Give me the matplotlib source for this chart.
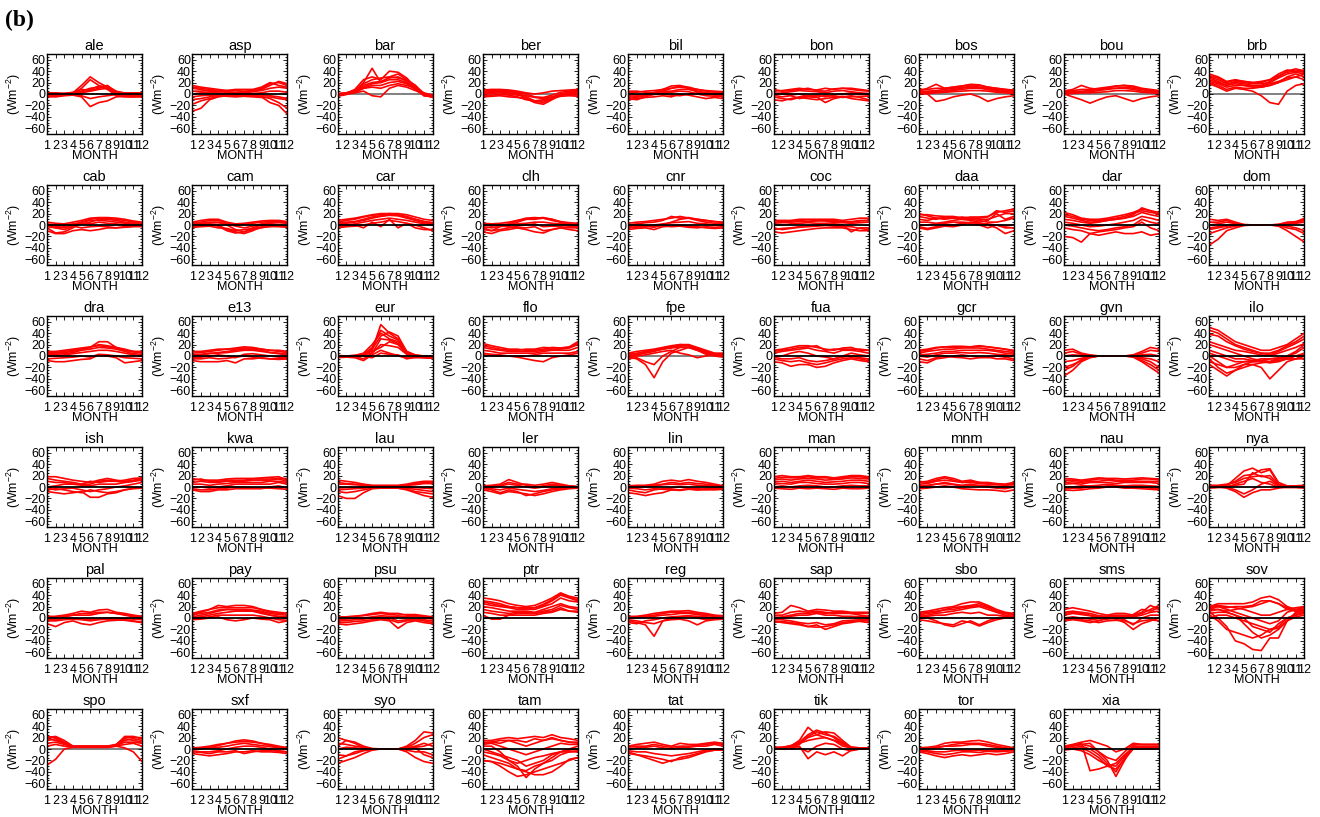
"""
monthly flux differences per station, one panel per site
"""
import matplotlib
matplotlib.use('Agg')
import numpy as np
from matplotlib import pyplot as plt
from matplotlib.ticker import MultipleLocator

MONTHS = list(range(1, 13))

ale = [[-3, -2, -1, 2, 15, 30, 20, 12, 0, -2, -3, -3], [-2, -3, -2, 0, 10, 25, 15, 8, -2, -4, -4, -3],
       [0, 1, 0, 2, 5, 10, 12, 15, 2, 0, 1, 0], [-4, -5, -3, -2, -5, -22, -15, -12, -5, -4, -5, -5],
       [1, 0, 1, 3, 8, 6, 10, 14, 5, 1, 0, 1], [-5, -4, -2, -1, 2, 5, 8, 10, -3, -5, -5, -4],
       [2, 2, 1, 2, 4, 8, 14, 12, 4, 2, 2, 2], [-1, -1, 0, 0, -3, -8, -5, -3, -1, -2, -1, -1]]
asp = [[15, 12, 10, 8, 6, 6, 5, 6, 10, 18, 20, 15], [10, 8, 5, 5, 4, 3, 4, 5, 8, 15, 22, 18],
       [-30, -25, -10, -5, -3, -2, -2, -3, -5, -15, -20, -35], [-18, -12, -8, -4, -2, -1, 0, -2, -4, -8, -15, -25],
       [5, 5, 6, 5, 3, 2, 2, 4, 6, 10, 12, 10], [0, 2, 3, 2, 1, 0, 1, 1, 2, 5, 5, 3],
       [-5, -3, -2, -3, -4, -5, -4, -5, -6, -5, -8, -10], [12, 10, 8, 6, 6, 8, 8, 8, 12, 20, 15, 12],
       [-10, -8, -5, -2, 0, 0, 1, 0, -2, -3, -5, -8]]
bar = [[-2, 0, 5, 20, 45, 20, 30, 35, 25, 15, -3, -5], [0, 1, 8, 25, 30, 25, 40, 38, 28, 12, -2, -4],
       [-3, 0, 5, 15, 20, 22, 28, 30, 22, 12, 0, -6], [0, 2, 6, 12, 18, 20, 25, 25, 20, 10, 2, -2],
       [-4, -1, 3, 10, 15, 15, 20, 22, 18, 8, -3, -5], [0, 0, 2, 5, -3, -5, 10, 15, 12, 6, 0, -3],
       [1, 2, 6, 18, 25, 28, 30, 28, 25, 15, 1, -3], [-2, 0, 4, 10, 12, 10, 15, 18, 15, 10, -1, -5]]
ber = [[5, 6, 7, 5, 2, -5, -12, -15, -8, 0, 4, 5], [2, 3, 4, 2, 0, -8, -15, -18, -10, -2, 2, 3],
       [-3, -2, -1, -2, -5, -10, -12, -10, -5, -2, -1, -2], [7, 8, 8, 7, 5, 2, 0, 2, 5, 6, 7, 8],
       [0, 1, 2, 0, -2, -3, -6, -8, -5, -1, 1, 0], [4, 4, 5, 4, 3, 0, -5, -6, -2, 3, 5, 6],
       [-5, -4, -3, -5, -6, -8, -14, -12, -8, -4, -3, -4]]
bil = [[-8, -10, -5, 0, 5, 10, 14, 12, 8, 5, 3, 2], [-5, -6, -3, 2, 8, 14, 15, 10, 5, 2, 0, -2],
       [2, 3, 5, 6, 8, 10, 12, 10, 8, 6, 5, 4], [-10, -8, -6, -5, -3, -5, 0, -2, -5, -8, -6, -8],
       [0, -2, 0, 3, 5, 5, 8, 8, 4, 2, 1, 0], [5, 5, 3, 2, 0, -2, -3, 0, 2, 0, -2, -5],
       [-3, -4, -2, -1, 2, 3, 5, 4, 0, -3, -4, -3]]
bon = [[-10, -12, -8, -5, -3, -5, -15, -8, -5, -3, -6, -10], [5, 6, 8, 10, 8, 7, 10, 8, 10, 8, 6, 5],
       [0, 2, 4, 6, 5, 4, 2, 5, 6, 4, 2, 1], [-5, -8, -10, -6, -8, -10, -8, -6, -4, -8, -10, -12],
       [2, 0, -2, 0, -4, -2, -5, -2, 0, 2, 0, -2], [-2, -5, -3, -8, -5, -6, -2, -4, -6, -5, -4, -4],
       [8, 5, 6, 8, 10, 6, 5, 9, 10, 10, 8, 6]]
bos = [[5, 10, 17, 10, 12, 14, 16, 15, 12, 10, 8, 6], [2, 0, -13, -10, -5, -2, 0, -5, -13, -8, -5, -3],
       [8, 8, 10, 10, 12, 14, 17, 16, 12, 10, 8, 7], [0, 2, 3, 5, 6, 8, 10, 10, 8, 5, 3, 2],
       [5, 5, 6, 8, 10, 12, 12, 12, 10, 8, 6, 5], [3, 3, 5, 5, 8, 10, 14, 12, 8, 6, 4, 3],
       [1, 1, 2, 3, 4, 5, 6, 6, 5, 3, 2, 1]]
bou = [[5, 8, 15, 10, 8, 10, 14, 15, 14, 10, 8, 6], [0, -5, -10, -16, -10, -5, -3, -8, -13, -8, -5, -3],
       [6, 6, 8, 8, 10, 12, 14, 15, 12, 8, 6, 5], [2, 2, 3, 4, 6, 8, 10, 10, 8, 5, 3, 2],
       [4, 4, 5, 6, 8, 10, 10, 12, 10, 8, 5, 4], [0, 1, 2, 2, 3, 4, 6, 6, 5, 3, 2, 1]]
brb = [[35, 30, 22, 25, 22, 20, 20, 25, 35, 42, 40, 38], [30, 25, 18, 20, 18, 15, 15, 22, 30, 40, 44, 40],
       [20, 15, 8, 12, 10, 10, 12, 15, 20, 25, 30, 35], [25, 20, 15, 18, 15, 12, 12, 15, 20, 30, 35, 30],
       [18, 12, 5, 10, 8, 5, -3, -15, -18, 5, 15, 18], [28, 22, 15, 22, 20, 18, 18, 20, 28, 35, 38, 35],
       [22, 18, 12, 15, 15, 14, 14, 18, 22, 28, 30, 25], [32, 28, 20, 24, 22, 20, 22, 25, 32, 38, 40, 42]]
cab = [[-5, -14, -12, -5, 5, 10, 12, 12, 10, 8, 5, 3], [0, -5, -8, -3, 2, 5, 10, 10, 8, 5, 3, 0],
       [5, 3, 2, 5, 8, 12, 13, 13, 12, 10, 7, 5], [-10, -15, -15, -10, -8, -10, -8, -5, -5, -3, -2, -3],
       [2, 0, 0, 2, 5, 8, 8, 7, 5, 3, 2, 2], [-3, -5, -3, -2, -5, -3, -2, -3, -5, -4, -3, -2],
       [0, -2, -5, 0, 3, 2, 5, 3, 2, 0, -1, 0]]
cam = [[5, 8, 10, 10, 5, 2, 3, 5, 7, 8, 8, 6], [0, 2, 5, 5, 0, -8, -12, -5, 0, 3, 4, 3],
       [-3, 0, 2, 0, -8, -12, -15, -10, -3, 0, 0, -2], [3, 5, 8, 8, 3, 0, 1, 3, 5, 6, 6, 5],
       [-5, -2, 0, -2, -10, -14, -12, -8, -5, -2, -3, -4], [2, 3, 4, 4, 2, -2, -5, -2, 2, 5, 6, 4],
       [-2, -3, -2, -5, -6, -10, -8, -6, -4, -3, -2, -2]]
car = [[5, 8, 10, 14, 17, 18, 20, 18, 15, 10, 6, 4], [2, 3, 5, 8, 12, 15, 17, 16, 12, 8, 4, 2],
       [-3, -2, 0, -5, 5, -3, 10, -5, 3, 0, -5, -10], [8, 10, 12, 15, 18, 20, 20, 20, 18, 14, 10, 8],
       [0, 0, 2, 5, 8, 10, 12, 10, 8, 5, 2, 0], [3, 5, 6, 10, 14, 16, 18, 17, 14, 10, 6, 4],
       [-5, -3, -2, 0, 3, 5, 8, 6, 3, -5, -8, -8]]
clh = [[-5, -10, -3, 0, 5, 10, 12, 13, 10, 5, 0, -3], [-12, -15, -10, -8, -5, -5, -3, -10, -8, -5, -8, -10],
       [0, -2, 0, 2, 8, 10, 10, 12, 8, 5, 2, 0], [-8, -10, -8, -5, -2, 0, 2, -3, -2, -3, -5, -5],
       [3, 2, 3, 5, 8, 12, 13, 12, 10, 6, 4, 3], [-3, -5, -2, -3, -5, -8, -12, -14, -8, -5, -3, -4],
       [0, 0, 1, 0, 2, 3, 5, 5, 3, 2, 0, 0]]
cnr = [[0, 2, 4, 5, 8, 15, 12, 13, 10, 8, 6, 5], [-5, -3, -2, -4, 0, 5, 10, 12, 8, 5, 3, 2],
       [3, 5, 6, 8, 10, 12, 15, 12, 10, 8, 6, 4], [-8, -6, -5, -8, -3, -2, 0, -2, -3, -5, -6, -5],
       [0, 0, -2, 0, 2, 4, 5, 6, 3, 2, 0, 0], [-3, -4, -3, -2, -1, -3, -2, -4, -5, -3, -4, -3]]
coc = [[8, 8, 8, 10, 10, 10, 10, 10, 8, 10, 12, 12], [-12, -14, -12, -10, -8, -6, -5, -5, -5, -8, -10, -10],
       [-5, -8, -6, -4, -2, 0, 0, 2, 0, -12, -5, -5], [3, 4, 5, 6, 6, 7, 8, 8, 6, 5, 8, 8],
       [-8, -6, -5, -3, -3, -2, -1, -2, -3, -3, -6, -8], [0, 0, 2, 3, 4, 3, 3, 4, 4, 3, 4, 5],
       [5, 6, 6, 8, 9, 8, 7, 6, 5, 6, 7, 8]]
daa = [[18, 18, 16, 15, 15, 12, 14, 14, 15, 22, 25, 28], [15, 12, 10, 14, 12, 14, 12, 10, 10, 15, 20, 20],
       [-5, -8, -5, -2, -3, 0, 5, 3, 0, -5, -15, -10], [10, 8, 12, 10, 12, 10, 8, 5, 8, 20, 10, 15],
       [5, 5, 3, 5, 8, 10, 10, 8, 5, 5, 8, 12], [-3, -6, -3, 0, 0, 3, 2, 0, -5, 0, -5, -5],
       [20, 16, 12, 12, 14, 12, 12, 12, 14, 25, 22, 25], [0, 0, 2, 3, 5, 5, 4, 3, 2, 0, -2, 0]]
dar = [[22, 18, 12, 10, 10, 12, 15, 18, 22, 28, 25, 22], [18, 15, 10, 8, 8, 10, 12, 15, 20, 25, 22, 20],
       [-20, -22, -30, -15, -18, -15, -12, -15, -15, -12, -18, -15], [-5, -8, -10, -15, -12, -10, -8, -5, -3, 5, -5, -10],
       [10, 8, 5, 3, 5, 8, 10, 12, 15, 22, 18, 15], [0, -2, -5, -8, -10, -8, -5, -3, 0, 10, 5, 2],
       [15, 12, 8, 5, 6, 8, 10, 12, 18, 30, 25, 18], [5, 3, 0, -3, -2, 0, 2, 5, 8, 15, 12, 8]]
dom = [[10, 8, 10, 5, 1, 0, 0, 0, 1, 5, 5, 12], [-5, -3, 0, 2, 0, 0, 0, 0, 0, 2, 3, 5],
       [-35, -25, -10, -5, -1, 0, 0, 0, -2, -10, -20, -30], [-15, -10, -5, -2, 0, 0, 0, 0, -1, -5, -8, -15],
       [5, 5, 8, 2, 0, 0, 0, 0, 0, 3, 4, 8], [-8, -5, -2, -1, 0, 0, 0, 0, 0, -2, -5, -10],
       [0, 2, 5, 3, 0, 0, 0, 0, 1, 4, 6, 10]]
dra = [[5, 5, 6, 8, 12, 15, 25, 25, 15, 12, 8, 6], [-8, -10, -10, -8, -6, -5, 2, 0, -3, -12, -10, -8],
       [8, 8, 10, 12, 14, 16, 18, 16, 14, 10, 8, 8], [2, 3, 4, 6, 10, 12, 15, 14, 12, 8, 4, 3],
       [-5, -4, -3, -2, 0, -2, 3, 2, 0, -3, -4, -5], [6, 6, 8, 10, 12, 15, 20, 18, 15, 10, 7, 6],
       [0, 0, 2, 4, 6, 8, 10, 10, 8, 5, 2, 0]]
e13 = [[5, 6, 8, 10, 12, 14, 16, 15, 12, 10, 8, 6], [-8, -10, -10, -10, -8, -12, -5, -5, -3, -5, -5, -4],
       [0, 2, 4, 6, 8, 10, 12, 12, 10, 6, 4, 2], [-5, -5, -3, -5, -4, -2, 0, -2, -4, -5, -6, -5],
       [2, 3, 5, 5, 6, 8, 10, 10, 8, 6, 5, 3], [8, 8, 10, 12, 12, 12, 14, 14, 12, 10, 10, 8],
       [-3, -2, 0, 2, 0, -3, 3, 4, 2, 0, -2, -3]]
eur = [[0, 0, 0, 3, 10, 55, 40, 30, 5, 0, -2, -3], [-2, -1, 0, 2, 15, 45, 35, 28, 8, 0, -2, -2],
       [0, 0, 1, 5, 20, 40, 30, 25, 5, 1, -1, -3], [-3, -2, -1, -5, 5, 20, 18, 15, 3, -1, -3, -4],
       [0, 0, 0, 0, -3, 5, 3, 2, -5, -2, -2, -3], [1, 0, 1, 3, 12, 35, 42, 35, 8, 2, 0, -1],
       [-1, 0, 0, 4, 8, 15, 25, 20, 4, 0, -2, -2], [0, 0, 0, 2, 5, 30, 28, 22, 6, 1, 0, -1],
       [-2, -2, -3, -8, 2, 10, 5, 0, -3, -3, -3, -4]]
flo = [[22, 18, 15, 12, 12, 10, 10, 12, 15, 14, 16, 25], [15, 12, 10, 8, 8, 8, 8, 10, 12, 12, 14, 20],
       [5, 3, 2, 0, -2, -5, -8, -10, -3, 0, 2, 5], [10, 8, 5, 5, 5, 5, 5, 8, 10, 10, 10, 15],
       [18, 15, 12, 10, 10, 12, 12, 15, 14, 14, 15, 22], [2, 1, 0, 0, 0, 0, 2, 5, 5, 5, 5, 8]]
fpe = [[5, 8, 10, 12, 15, 18, 20, 20, 15, 10, 5, 5], [0, 2, 5, 8, 12, 15, 18, 18, 12, 8, 4, 3],
       [-2, -5, -15, -38, -10, 5, 10, 15, 12, 5, 2, 0], [-5, -3, -10, -15, 0, 8, 15, 15, 10, 3, 0, -2],
       [3, 5, 7, 10, 12, 14, 16, 15, 10, 6, 3, 2], [-3, 0, 2, 5, 8, 10, 5, 2, -3, 0, 2, 0],
       [2, 4, 8, 10, 14, 16, 20, 18, 14, 8, 4, 3]]
fua = [[10, 12, 15, 18, 18, 15, 12, 10, 14, 15, 10, 10], [-10, -12, -18, -15, -15, -20, -18, -12, -8, -5, -8, -10],
       [5, 8, 10, 12, 14, 10, 8, 5, 10, 10, 8, 5], [-5, -8, -10, -8, -12, -15, -12, -8, -5, -3, -5, -8],
       [0, 0, 5, 8, 5, 0, -2, -5, 0, 5, 2, 0], [8, 10, 12, 15, 16, 18, 10, 12, 12, 12, 12, 10],
       [-2, -5, -5, -3, -8, -10, -8, -5, -2, 0, -3, -5]]
gcr = [[8, 10, 14, 16, 15, 16, 16, 18, 16, 14, 12, 8], [-10, -12, -5, -3, 0, 2, 0, -2, -3, 0, -2, -5],
       [5, 8, 10, 12, 12, 14, 14, 14, 12, 10, 8, 6], [-5, -8, -3, 0, -2, -3, -5, -3, -2, -5, -5, -8],
       [2, 3, 5, 8, 8, 10, 10, 10, 10, 8, 5, 3], [0, -2, 2, 5, 5, 6, 5, 6, 5, 3, 2, 0],
       [10, 12, 15, 16, 17, 17, 16, 17, 16, 14, 12, 10]]
gvn = [[10, 12, 5, 2, 0, 0, 0, 0, 2, 8, 15, 12], [-35, -25, -10, -3, 0, 0, 0, 0, -2, -10, -20, -30],
       [-20, -15, -8, -2, 0, 0, 0, 0, -1, -5, -10, -20], [5, 8, 3, 1, 0, 0, 0, 0, 1, 5, 10, 8],
       [-10, -8, -4, -1, 0, 0, 0, 0, 0, -3, -5, -10], [0, 2, 1, 0, 0, 0, 0, 0, 0, 2, 3, 0],
       [-25, -18, -6, -2, 0, 0, 0, 0, -1, -8, -15, -25]]
ilo = [[50, 45, 35, 25, 20, 15, 10, 10, 15, 20, 30, 40], [45, 40, 30, 20, 15, 10, 5, 5, 10, 18, 25, 35],
       [38, 35, 25, 18, 12, 8, 5, 2, 8, 15, 22, 30], [25, 20, 15, 10, 8, 5, 2, 0, 5, 10, 15, 22],
       [10, 5, 0, -5, -5, -8, -8, -10, -5, 0, 5, 15], [-5, -20, -30, -25, -15, -10, -8, -5, -5, -5, -5, 0],
       [-15, -25, -35, -25, -20, -15, -12, -10, -8, -5, -5, -5], [0, -10, -20, -20, -15, -15, -20, -40, -25, -10, -5, 0],
       [20, 15, 10, 5, 0, -5, -8, -10, -5, 0, 8, 20], [5, 0, -5, -10, -10, -10, -10, -12, -10, -5, 0, 5],
       [-10, -15, -20, -15, -10, -8, -5, -5, -3, -2, 0, 2]]
ish = [[18, 18, 15, 12, 10, 8, 12, 15, 12, 10, 12, 15], [15, 12, 10, 8, 5, 10, 8, 10, 10, 12, 15, 16],
       [-8, -10, -12, -10, -8, -18, -18, -12, -10, -5, -2, 0], [-5, -3, -5, -8, -10, -5, -8, -10, -8, -5, -3, -2],
       [0, 2, 5, 5, 3, 2, 5, 5, 5, 8, 10, 12], [10, 8, 8, 5, 5, 5, 10, 12, 10, 8, 10, 14],
       [-2, -5, -3, -2, -5, -8, -5, -3, 0, 2, 5, 8]]
kwa = [[15, 12, 12, 12, 14, 15, 15, 15, 16, 17, 18, 12], [-5, -8, -8, -5, -5, -3, -3, -3, -3, 0, 2, -2],
       [8, 10, 8, 8, 10, 10, 10, 12, 12, 12, 14, 10], [0, 0, -2, 0, 2, 5, 5, 5, 5, 5, 8, 5],
       [12, 14, 10, 10, 12, 12, 12, 14, 14, 14, 15, 15], [-3, -5, -5, -3, -2, 0, 0, -2, -2, -2, -3, -4],
       [5, 5, 3, 5, 6, 8, 8, 8, 8, 10, 10, 8]]
lau = [[12, 10, 8, 5, 3, 3, 3, 3, 5, 8, 10, 10], [-15, -20, -20, -10, -3, -2, -2, -2, -5, -10, -15, -18],
       [-8, -10, -8, -5, -2, -1, -1, -2, -4, -8, -10, -12], [5, 5, 4, 3, 2, 2, 2, 2, 3, 4, 6, 6],
       [-2, -1, -1, 0, 0, 0, 0, 0, 0, -1, -2, -3], [-5, -4, -3, -2, -1, -1, -1, -1, -2, -4, -6, -8],
       [8, 6, 5, 4, 2, 2, 2, 2, 3, 6, 8, 8]]
ler = [[2, 3, 5, 13, 8, 3, 0, 2, 5, 3, 2, 0], [-2, -5, -10, -5, -8, -15, -12, -8, -5, -3, -2, 0],
       [0, 0, 2, 5, 3, 0, -2, 0, 3, 2, 1, 0], [-5, -8, -12, -8, -10, -12, -15, -12, -8, -5, -3, -2],
       [1, 2, 3, 8, 5, 5, 3, 5, 8, 5, 2, 1], [-3, -3, -5, -2, -4, -6, -8, -6, -3, -2, -1, -1]]
lin = [[2, 3, 3, 5, 10, 12, 10, 13, 10, 8, 5, 2], [-10, -12, -15, -12, -10, -5, -5, -3, -5, -5, -4, -3],
       [0, 0, 2, 3, 5, 8, 6, 8, 6, 5, 3, 1], [-5, -8, -10, -5, -3, -2, 0, -2, -3, -4, -5, -4],
       [2, 1, 0, 2, 4, 5, 4, 5, 3, 2, 2, 1], [-2, -3, -5, -3, -4, -5, -6, -4, -5, -3, -2, -2]]
man = [[18, 20, 18, 18, 20, 18, 18, 16, 18, 20, 20, 18], [12, 14, 12, 14, 15, 14, 12, 13, 14, 16, 15, 14],
       [5, 6, 5, 8, 8, 6, 5, 5, 6, 8, 8, 6], [-2, -3, -4, -2, -3, -2, -3, -4, -2, -3, -3, -2],
       [8, 10, 8, 10, 12, 10, 8, 9, 10, 12, 12, 10], [0, 2, 0, 2, 3, 2, 0, 0, 2, 3, 2, 2],
       [15, 17, 16, 16, 18, 16, 16, 15, 16, 18, 18, 16]]
mnm = [[8, 10, 15, 18, 15, 10, 12, 8, 6, 5, 4, 6], [0, 2, 5, 8, 5, 3, 5, 2, 0, -2, -3, 0],
       [-3, -2, 0, 2, 0, -3, -4, -5, -5, -6, -8, -5], [5, 6, 10, 12, 10, 8, 8, 6, 5, 4, 3, 4],
       [2, 3, 5, 6, 4, 2, 3, 3, 2, 1, 0, 1], [10, 8, 12, 16, 12, 8, 10, 8, 8, 6, 5, 8]]
nau = [[12, 12, 10, 12, 14, 14, 12, 12, 12, 14, 14, 12], [-5, -6, -5, -3, -2, 0, 0, -2, -2, -3, -4, -5],
       [5, 6, 5, 8, 8, 8, 6, 8, 8, 8, 8, 6], [0, 0, 2, 2, 3, 5, 3, 2, 3, 3, 2, 1],
       [15, 14, 12, 14, 16, 15, 15, 14, 15, 16, 15, 14], [-3, -2, -2, 0, 0, 2, 2, 0, 0, 0, -2, -3],
       [8, 9, 8, 10, 10, 12, 10, 10, 10, 10, 10, 9]]
nya = [[0, 0, 2, 15, 28, 33, 25, 30, 5, 0, 0, 0], [2, 2, 3, 10, 20, 22, 30, 32, 8, 2, 2, 2],
       [0, 0, -2, -8, -18, -10, -5, -5, -2, 0, 0, 0], [3, 3, 5, 8, 15, 18, 20, 15, 3, 2, 2, 3],
       [-2, -1, 0, 5, 10, 15, 8, 5, 0, -1, -1, -2], [1, 1, 0, -5, -12, -5, 5, 10, 2, 0, 0, 1],
       [0, 0, 1, 3, 5, 25, 18, 20, 4, 1, 1, 0]]
pal = [[2, 3, 5, 8, 12, 10, 14, 15, 10, 8, 5, 3], [-10, -15, -8, -5, -10, -12, -8, -5, -4, -3, -5, -8],
       [0, 0, 2, 5, 5, 5, 8, 10, 8, 5, 2, 0], [-5, -5, -3, -2, -3, -5, -3, -2, -3, -4, -6, -8],
       [3, 2, 3, 5, 8, 8, 10, 10, 8, 6, 4, 2], [-2, -3, -2, 0, -2, -3, -2, 0, 0, -1, -2, -3]]
pay = [[5, 10, 15, 22, 20, 22, 22, 20, 15, 10, 8, 8], [8, 12, 15, 18, 18, 18, 18, 18, 15, 12, 10, 8],
       [0, 2, 5, 8, 10, 12, 12, 12, 10, 5, 2, 2], [-3, -2, 0, 2, -3, -5, -3, 0, -2, -3, -8, -5],
       [2, 5, 8, 12, 15, 14, 14, 12, 8, 5, 3, 2], [-2, 0, 2, 5, 5, 5, 5, 5, 3, 0, -3, -4],
       [6, 8, 10, 14, 15, 15, 15, 14, 12, 8, 6, 5]]
psu = [[0, 2, 3, 5, 8, 10, 8, 8, 5, 5, 2, 0], [-10, -12, -10, -8, -5, -3, -5, -18, -8, -5, -8, -10],
       [-5, -5, -3, -2, 0, 2, 0, -5, -3, -2, -3, -5], [2, 2, 3, 4, 6, 8, 6, 5, 6, 6, 4, 2],
       [-8, -8, -6, -5, -3, -2, -3, -8, -5, -3, -5, -8], [-3, -2, -1, 0, 2, 4, 3, 2, 2, 3, 1, -2]]
ptr = [[35, 33, 30, 25, 22, 20, 22, 28, 35, 44, 38, 35], [30, 28, 25, 20, 18, 18, 18, 22, 30, 40, 35, 30],
       [5, -2, -2, 5, 8, 8, 8, 10, 12, 18, 12, 10], [20, 18, 15, 12, 12, 12, 10, 15, 20, 25, 20, 18],
       [25, 22, 20, 18, 15, 15, 15, 20, 25, 35, 30, 28], [15, 12, 10, 8, 10, 10, 8, 12, 15, 22, 18, 15],
       [10, 8, 5, 5, 5, 5, 5, 8, 10, 15, 12, 12], [28, 25, 22, 20, 18, 16, 18, 24, 32, 42, 36, 32]]
reg = [[2, 3, 5, 8, 10, 12, 12, 13, 10, 8, 5, 4], [-5, -8, -12, -32, -5, 0, 2, 3, 0, -3, -2, -2],
       [-3, -5, -8, -10, -5, -3, -2, -5, -12, -5, -3, -2], [0, 0, 2, 3, 5, 6, 8, 8, 6, 4, 3, 2],
       [-8, -10, -5, -3, 0, 2, 3, 4, 3, 2, 0, -2], [3, 2, 3, 5, 8, 10, 10, 10, 8, 6, 4, 3]]
sap = [[8, 10, 22, 18, 12, 15, 14, 12, 12, 10, 10, 10], [-5, -8, -10, -12, -15, -12, -20, -15, -10, -8, -5, -5],
       [5, 5, 10, 12, 10, 12, 10, 8, 8, 8, 8, 8], [-3, -3, -5, -8, -10, -8, -12, -10, -5, -4, -3, -3],
       [2, 0, 3, 5, 5, 8, 5, 5, 3, 3, 2, 2], [-8, -6, -8, -10, -15, -16, -15, -12, -8, -6, -6, -8],
       [0, 2, 5, 8, 8, 10, 8, 10, 10, 8, 5, 3]]
sbo = [[10, 12, 15, 18, 20, 25, 28, 28, 22, 15, 10, 8], [5, 8, 10, 15, 18, 20, 22, 25, 20, 12, 8, 5],
       [0, 0, -5, -12, -15, -10, -5, -12, -5, 0, 2, 0], [2, 5, 8, 10, 12, 15, 18, 20, 15, 10, 5, 2],
       [-3, -5, -8, -10, -12, -5, -8, -14, -8, -3, 0, 0], [8, 10, 12, 14, 15, 18, 20, 22, 18, 12, 8, 6],
       [3, 3, 5, 5, 8, 10, 8, 10, 5, 5, 3, 3]]
sms = [[15, 18, 15, 12, 8, 5, 8, 8, 5, 10, 22, 15], [10, 12, 10, 8, 4, 3, 5, 5, 3, 8, 15, 22],
       [-5, -3, -5, -8, -5, 0, -2, -8, -20, -10, -5, 0], [0, 2, 0, -2, -4, -2, 0, -3, -12, 0, 5, 5],
       [8, 10, 8, 5, 2, 2, 4, 3, 2, 5, 10, 12], [-3, -2, -3, -5, -8, -5, -4, -5, -10, -5, -3, -5],
       [5, 8, 6, 4, 0, 3, 3, 2, 6, 15, 12, 18]]
sov = [[20, 25, 25, 25, 25, 28, 35, 38, 32, 20, 15, 15], [15, 20, 18, 20, 20, 22, 30, 30, 25, 15, 12, 12],
       [10, 0, -15, -40, -45, -55, -57, -35, -35, -5, 10, 15], [5, -5, -20, -25, -30, -35, -30, -20, -15, 0, 5, 10],
       [18, 20, 15, 10, 5, 0, -5, -10, -5, 10, 15, 18], [12, 15, 10, 5, -10, -25, -35, -30, -20, -5, 8, 12],
       [20, 22, 20, 18, 15, 10, 5, 5, 10, 15, 18, 20], [8, 10, 10, 5, 0, -15, -20, -25, -10, 0, 5, 8],
       [15, 15, 12, 15, 18, 20, 25, 30, 25, 18, 12, 12], [0, 5, 5, 0, -5, -10, -15, -20, -18, -5, 2, 5]]
spo = [[20, 22, 15, 5, 5, 5, 5, 5, 8, 20, 20, 20], [15, 18, 10, 4, 4, 4, 4, 4, 6, 15, 18, 15],
       [-28, -18, 0, 3, 3, 3, 3, 3, 5, 2, -5, -22], [10, 12, 8, 4, 4, 4, 4, 4, 6, 12, 12, 10],
       [22, 20, 12, 5, 5, 5, 5, 5, 7, 22, 22, 18], [5, 8, 5, 3, 3, 3, 3, 3, 5, 8, 10, 5],
       [18, 15, 10, 4, 4, 4, 4, 4, 6, 18, 15, 12]]
sxf = [[0, 2, 3, 6, 10, 14, 16, 14, 10, 8, 5, 2], [-8, -10, -12, -10, -8, -5, -5, -3, -5, -5, -6, -8],
       [-3, -5, -5, -3, 0, 3, 5, 5, 3, 0, -3, -5], [2, 3, 5, 8, 10, 12, 13, 12, 10, 6, 4, 2],
       [-5, -6, -8, -5, -5, -3, -8, -5, -3, -3, -4, -5], [0, 0, 2, 3, 5, 8, 10, 8, 6, 4, 2, 0]]
syo = [[20, 15, 12, 5, 1, 0, 0, 0, 5, 15, 30, 28], [-25, -20, -15, -8, -2, 0, 0, 0, -5, -15, -22, -25],
       [10, 8, 5, 3, 0, 0, 0, 0, 3, 10, 20, 25], [-10, -12, -8, -3, -1, 0, 0, 0, -2, -5, -5, -10],
       [5, 15, 10, 2, 0, 0, 0, 0, 2, 5, 10, 5], [-18, -12, -5, -2, 0, 0, 0, 0, 0, 2, -10, -15],
       [0, 3, 2, 1, 0, 0, 0, 0, 1, 3, 5, 10]]
tam = [[15, 15, 18, 20, 18, 20, 22, 20, 25, 20, 18, 15], [10, 12, 10, 15, 15, 12, 18, 15, 20, 15, 12, 10],
       [-20, -22, -30, -40, -48, -45, -40, -35, -30, -25, -20, -15], [-20, -22, -25, -30, -35, -40, -45, -45, -40, -30, -18, -15],
       [5, 5, -5, -20, -30, -50, -35, -25, -15, -5, 0, 5], [0, -5, -10, -15, -20, -30, -25, -20, -10, -5, -2, 0],
       [-5, -8, -12, -20, -25, -20, -15, -12, -8, -5, -5, -3], [8, 10, 5, 0, -5, -10, -5, 0, 5, 10, 8, 8],
       [-10, -15, -20, -25, -35, -38, -30, -25, -20, -10, -5, -5], [12, 12, 15, 15, 10, 5, 10, 15, 18, 15, 12, 12]]
tat = [[5, 8, 10, 12, 8, 5, 10, 8, 8, 10, 12, 10], [-5, -10, -15, -20, -25, -20, -18, -15, -10, -5, -2, 0],
       [0, 2, 3, 5, 2, 0, 3, 3, 5, 5, 8, 5], [-8, -10, -12, -15, -18, -22, -15, -12, -8, -4, -2, -2],
       [-3, -5, -5, -8, -10, -12, -10, -8, -5, -2, 0, 0], [3, 5, 5, 8, 5, 3, 5, 5, 6, 8, 10, 8]]
tik = [[2, 3, 5, 15, 38, 25, 20, 15, 5, 2, 2, 2], [3, 3, 6, 12, 25, 33, 28, 20, 8, 3, 2, 2],
       [0, 0, 2, 5, -17, -5, -10, -5, -12, -2, 0, 0], [1, 2, 5, 10, 20, 25, 30, 28, 15, 3, 1, 1],
       [0, 0, 0, 2, -5, 5, 10, 8, 0, -3, 0, 0], [2, 2, 4, 10, 15, 18, 20, 15, 10, 3, 2, 2],
       [1, 1, 3, 8, 22, 30, 25, 22, 12, 2, 1, 1]]
tor = [[2, 3, 5, 10, 12, 12, 14, 15, 12, 8, 5, 2], [-5, -8, -12, -15, -12, -10, -12, -10, -8, -10, -8, -5],
       [0, 0, 2, 5, 8, 10, 10, 10, 8, 5, 2, 0], [-3, -5, -8, -10, -8, -5, -5, -6, -4, -5, -4, -3],
       [1, 1, 3, 5, 5, 6, 8, 8, 5, 3, 1, 1], [-2, -3, -5, -5, -3, -2, -3, -2, -3, -3, -2, -2]]
xia = [[5, 8, 12, 15, 10, 5, -5, 0, 10, 8, 8, 8], [2, 5, 8, 10, -5, -20, -48, -20, 5, 5, 5, 5],
       [0, 2, 5, 0, -10, -25, -40, -15, 5, 3, 3, 3], [3, 5, 10, -38, -35, -30, -25, -10, 2, 2, 2, 3],
       [-2, 0, 2, -5, -15, -30, -35, -18, 0, 0, 0, 0], [5, 6, 8, 5, -5, -15, -20, -5, 8, 8, 8, 8],
       [0, 0, -3, -10, -20, -28, -30, -12, 3, 2, 2, 2]]

STATIONS = [
    ('ale', ale), ('asp', asp), ('bar', bar), ('ber', ber), ('bil', bil), ('bon', bon), ('bos', bos),
    ('bou', bou), ('brb', brb), ('cab', cab), ('cam', cam), ('car', car), ('clh', clh), ('cnr', cnr),
    ('coc', coc), ('daa', daa), ('dar', dar), ('dom', dom), ('dra', dra), ('e13', e13), ('eur', eur),
    ('flo', flo), ('fpe', fpe), ('fua', fua), ('gcr', gcr), ('gvn', gvn), ('ilo', ilo), ('ish', ish),
    ('kwa', kwa), ('lau', lau), ('ler', ler), ('lin', lin), ('man', man), ('mnm', mnm), ('nau', nau),
    ('nya', nya), ('pal', pal), ('pay', pay), ('psu', psu), ('ptr', ptr), ('reg', reg), ('sap', sap),
    ('sbo', sbo), ('sms', sms), ('sov', sov), ('spo', spo), ('sxf', sxf), ('syo', syo), ('tam', tam),
    ('tat', tat), ('tik', tik), ('tor', tor), ('xia', xia),
]

# sites where the zero reference shows as a grey line under the curves
GREY_ZERO = {'bar', 'ber', 'bos', 'bou', 'brb', 'fpe', 'spo'}

plt.rcParams['font.family'] = ['Liberation Sans', 'DejaVu Sans']
plt.rcParams['mathtext.fontset'] = 'custom'
plt.rcParams['mathtext.rm'] = 'Liberation Sans'

W, H = 1320, 817
fig = plt.figure(figsize=(W / 100, H / 100), dpi=100)
fig.text(5 / W, 1 - 20 / H, '(b)', family='Liberation Serif', weight='bold', fontsize=17, va='center')

ncol = 9
x0, dx, aw = 47, 145.3, 95
y0, dy, ah = 54, 131, 80

for k, (name, series) in enumerate(STATIONS):
    r, c = divmod(k, ncol)
    left = x0 + c * dx
    top = y0 + r * dy
    ax = fig.add_axes([left / W, 1 - (top + ah) / H, aw / W, ah / H])

    if name in GREY_ZERO:
        ax.axhline(0, color='0.5', lw=1.4, zorder=1)
    for s in series:
        ax.plot(MONTHS, s, color='red', lw=1.2, zorder=2)
    if name not in GREY_ZERO:
        ax.axhline(0, color='black', lw=1.3, zorder=3)

    ax.set_xlim(1, 12)
    ax.set_ylim(-70, 70)
    ax.set_xticks(MONTHS)
    ax.set_yticks(np.arange(-60, 61, 20))
    ax.yaxis.set_minor_locator(MultipleLocator(5))
    ax.tick_params(which='both', direction='in', top=True, right=True, labelsize=9, pad=1)
    ax.tick_params(which='major', length=3, width=0.6)
    ax.tick_params(which='minor', length=1.5, width=0.6)
    ax.tick_params(axis='x', pad=4)
    for sp in ax.spines.values():
        sp.set_linewidth(1.0)
    ax.set_title(name, fontsize=10.5, pad=3)
    ax.set_xlabel('MONTH', fontsize=9, labelpad=-1)
    ax.set_ylabel('(Wm$^{-2}$)', fontsize=9, labelpad=1)

fig.savefig('out.png', dpi=100)
